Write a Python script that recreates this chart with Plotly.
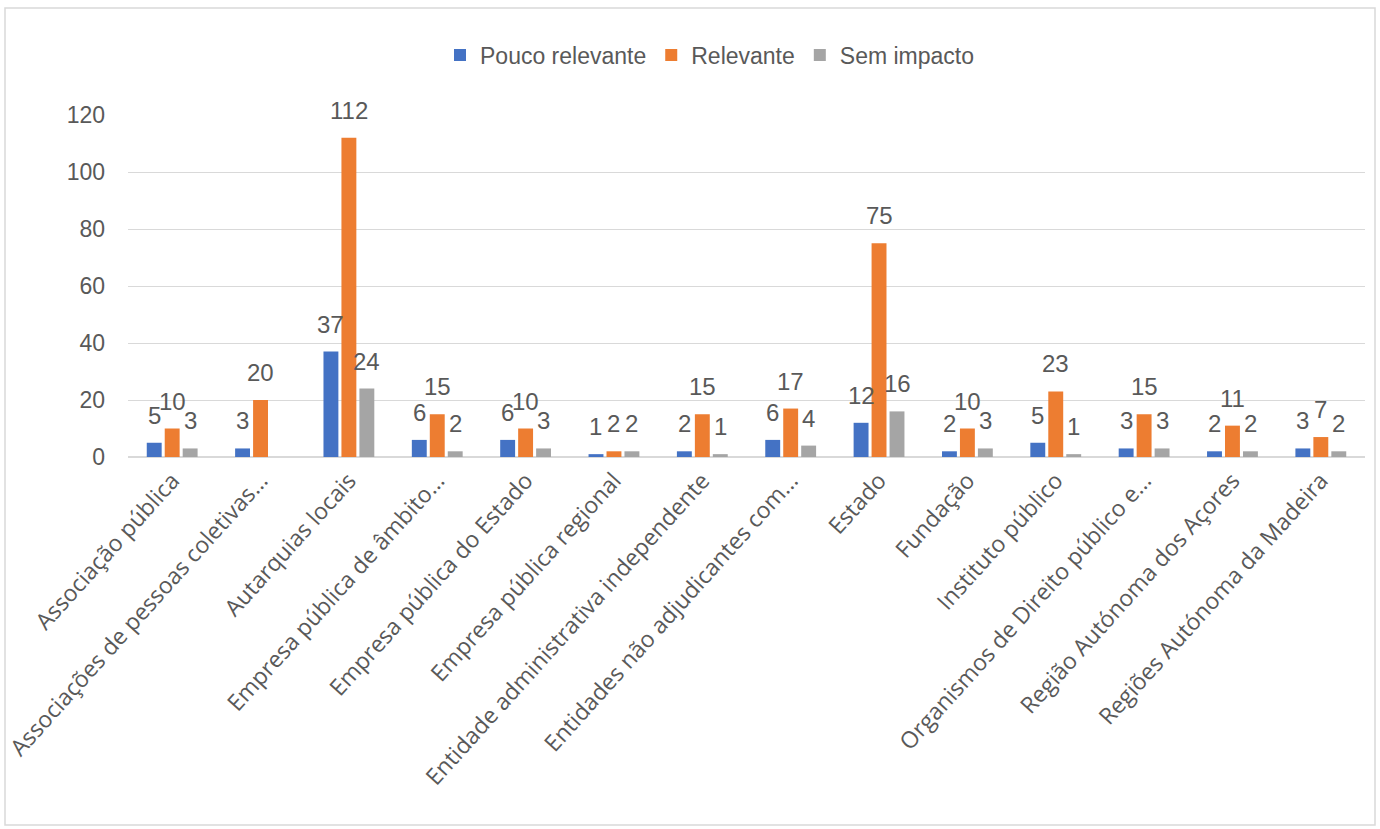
import plotly.graph_objects as go

categories = [
    "Associação pública",
    "Associações de pessoas coletivas...",
    "Autarquias locais",
    "Empresa pública de âmbito...",
    "Empresa pública do Estado",
    "Empresa pública regional",
    "Entidade administrativa independente",
    "Entidades não adjudicantes com...",
    "Estado",
    "Fundação",
    "Instituto público",
    "Organismos de Direito público e...",
    "Região Autónoma dos Açores",
    "Regiões Autónoma da Madeira",
]
pouco_relevante = [5, 3, 37, 6, 6, 1, 2, 6, 12, 2, 5, 3, 2, 3]
relevante = [10, 20, 112, 15, 10, 2, 15, 17, 75, 10, 23, 15, 11, 7]
sem_impacto = [3, None, 24, 2, 3, 2, 1, 4, 16, 3, 1, 3, 2, 2]
y_ticks = [0, 20, 40, 60, 80, 100, 120]

series = [
    ("Pouco relevante", pouco_relevante, "#4472C4"),
    ("Relevante", relevante, "#ED7D31"),
    ("Sem impacto", sem_impacto, "#A5A5A5"),
]

W, H = 1380, 829
L, R, T, B = 128, 15, 115, 372
pw, ph = W - L - R, H - T - B
BARGAP = 0.39
BARGROUPGAP = 0.17

num_font = "Liberation Sans, Arial, sans-serif"
txt_color = "#595959"

fig = go.Figure()
for name, vals, color in series:
    fig.add_trace(go.Bar(
        name=name,
        x=categories,
        y=vals,
        marker=dict(color=color, line=dict(width=0)),
        cliponaxis=False,
        hoverinfo="skip",
    ))

# data labels placed above each bar (offset to each bar's slot in the group)
slot_px = (pw / len(categories)) * (1 - BARGAP) / len(series)
for si, (name, vals, color) in enumerate(series):
    shift = (si - (len(series) - 1) / 2) * slot_px
    for cat, v in zip(categories, vals):
        if v is None:
            continue
        fig.add_annotation(
            x=cat, y=v, xref="x", yref="y",
            text=str(v), showarrow=False,
            xanchor="center", yanchor="bottom",
            xshift=shift, yshift=12,
            font=dict(family=num_font, size=24, color=txt_color),
        )

def px_x(p):
    return (p - L) / pw

def px_y(p):
    return (H - B - p) / ph

fig.add_shape(type="rect", xref="paper", yref="paper",
              x0=px_x(5), x1=px_x(1375), y0=px_y(825), y1=px_y(8),
              line=dict(color="#D9D9D9", width=1.5), fillcolor="rgba(0,0,0,0)", layer="below")

fig.update_layout(
    width=W, height=H,
    margin=dict(l=L, r=R, t=T, b=B, autoexpand=False),
    paper_bgcolor="white",
    plot_bgcolor="white",
    barmode="group",
    bargap=BARGAP,
    bargroupgap=BARGROUPGAP,
    showlegend=True,
    legend=dict(
        orientation="h",
        x=px_x(710), xanchor="center",
        y=px_y(55), yanchor="middle",
        font=dict(family=num_font, size=23, color=txt_color),
        itemwidth=30,
        traceorder="normal",
    ),
    xaxis=dict(
        tickangle=-48,
        tickfont=dict(family="Open Sans, sans-serif", size=23, color=txt_color),
        showgrid=False,
        showline=True,
        linecolor="#D9D9D9",
        linewidth=1,
        ticks="",
        automargin=False,
    ),
    yaxis=dict(
        range=[0, 120],
        tickvals=y_ticks,
        tickfont=dict(family=num_font, size=23, color=txt_color),
        showgrid=True,
        gridcolor="#D9D9D9",
        gridwidth=1,
        zeroline=True,
        zerolinecolor="#D9D9D9",
        showline=False,
        ticks="",
        ticklabelstandoff=22,
        automargin=False,
    ),
)

fig.write_html("out.html", config={"displayModeBar": False},
               post_script="document.body.style.margin='0px';")
